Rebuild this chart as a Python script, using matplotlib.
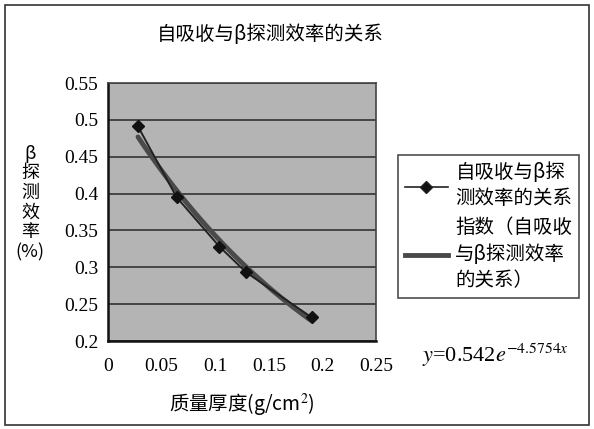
import numpy as np
import matplotlib
matplotlib.use("Agg")
import matplotlib.pyplot as plt
from matplotlib.patches import Rectangle
from matplotlib.lines import Line2D

plt.rcParams['font.family'] = ['Noto Sans CJK SC', 'DejaVu Sans']
plt.rcParams['mathtext.fontset'] = 'stix'

# Data
thickness = [0.028, 0.064, 0.104, 0.129, 0.190]       # g/cm^2
efficiency = [0.491, 0.395, 0.328, 0.293, 0.232]
fit_a = 0.542
fit_b = -4.5754
xticks = [0, 0.05, 0.1, 0.15, 0.2, 0.25]
xtick_labels = ["0", "0.05", "0.1", "0.15", "0.2", "0.25"]
yticks = [0.2, 0.25, 0.3, 0.35, 0.4, 0.45, 0.5, 0.55]
ytick_labels = ["0.2", "0.25", "0.3", "0.35", "0.4", "0.45", "0.5", "0.55"]

title = "自吸收与β探测效率的关系"
series_label = "自吸收与β探\n测效率的关系"
trend_label = "指数（自吸收\n与β探测效率\n的关系）"

fig = plt.figure(figsize=(5.94, 4.29), dpi=100)
fig.patch.set_facecolor('white')
ax = fig.add_axes([108/594, 1-341/429, (376-108)/594, (341-83)/429])
ax.set_facecolor('#b4b4b4')

ax.set_xlim(0, 0.25)
ax.set_ylim(0.2, 0.55)
ax.set_yticks(yticks)
ax.set_yticklabels(ytick_labels)
ax.set_xticks(xticks)
ax.set_xticklabels(xtick_labels)
ax.tick_params(axis='both', length=0, labelsize=14)
ax.tick_params(axis='y', pad=7)
ax.tick_params(axis='x', pad=12)
for lab in ax.get_xticklabels() + ax.get_yticklabels():
    lab.set_fontfamily(['Liberation Serif', 'DejaVu Serif'])
ax.yaxis.grid(True, color='#333333', linewidth=1.2)
ax.set_axisbelow(True)
for s in ax.spines.values():
    s.set_color('#444444')
    s.set_linewidth(1.2)
ax.spines['left'].set_color('#111111')
ax.spines['left'].set_linewidth(1.8)
ax.spines['bottom'].set_color('#111111')
ax.spines['bottom'].set_linewidth(1.8)

# trendline from displayed equation
xs = np.linspace(thickness[0], thickness[-1], 100)
ax.plot(xs, fit_a*np.exp(fit_b*xs), color='#4a4a4a', linewidth=3.5, solid_capstyle='round', zorder=3)
ax.plot(thickness, efficiency, color='#222222', linewidth=1.4, marker='D', markersize=6,
        markerfacecolor='#111111', markeredgecolor='#111111', zorder=4)

fig.text(270/594, 1-34/429, title, ha='center', va='center', fontsize=14)
fig.text(30/594, 1-203/429, "β\n探\n测\n效\n率\n(%)", ha='center', va='center', fontsize=13,
         linespacing=1.12)
fig.text(242/594, 1-405/429, "质量厚度(g/cm$^2$)", ha='center', va='center', fontsize=14)
fig.text(422/594, 1-355/429, r"$y$=0.542$e^{-4.5754x}$", ha='left', va='center', fontsize=16,
         family=['Liberation Serif', 'DejaVu Serif'])

handles = [
    Line2D([0], [0], color='#222222', linewidth=1.2, marker='D', markersize=6,
           markerfacecolor='#111111'),
    Line2D([0], [0], color='#4a4a4a', linewidth=3.5),
]
leg = fig.legend(handles, [series_label, trend_label], loc='upper left',
                 bbox_to_anchor=(398/594, 1-155/429), frameon=True, fancybox=False,
                 fontsize=14, handlelength=2.2, labelspacing=0.4, borderpad=0.35,
                 handletextpad=0.4, borderaxespad=0)
for t in leg.get_texts():
    t.set_linespacing(1.35)
leg.get_frame().set_edgecolor('#222222')
leg.get_frame().set_linewidth(1.2)

fig.patches.append(Rectangle((5/594, 4/429), 584/594, 420/429, transform=fig.transFigure,
                             fill=False, edgecolor='#333333', linewidth=1.2))

fig.savefig('out.png', dpi=100)
